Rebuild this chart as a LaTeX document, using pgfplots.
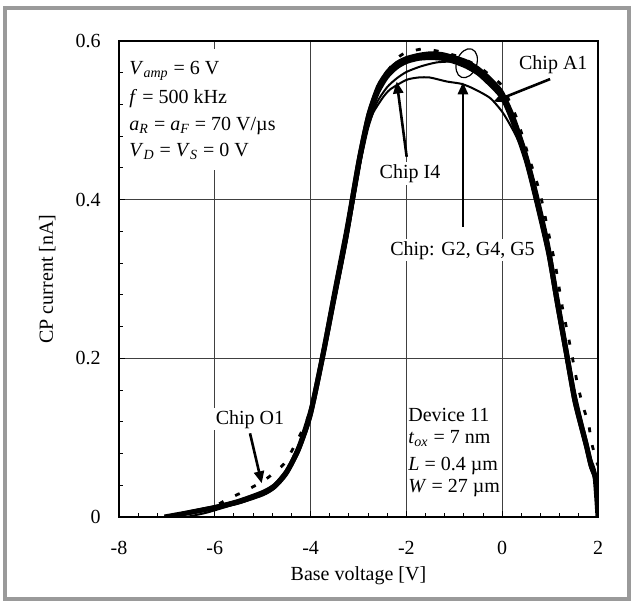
\documentclass[border=0pt]{standalone}
\usepackage{fontspec}
\setmainfont{Liberation Serif}
\usepackage{pgfplots}
\pgfplotsset{compat=1.18}
\usetikzlibrary{arrows.meta}
\definecolor{framegray}{HTML}{9A9A9A}

% CP current [nA] vs base voltage [V]
\pgfplotstableread{
x y
-7.05 0.000
-6.5 0.006
-6.0 0.012
-5.5 0.019
-5.0 0.030
-4.75 0.039
-4.5 0.057
-4.25 0.086
-4.0 0.131
-3.75 0.202
-3.5 0.280
-3.25 0.357
-3.0 0.445
-2.8 0.503
-2.6 0.538
-2.4 0.558
-2.2 0.570
-2.0 0.577
-1.75 0.581
-1.5 0.582
-1.25 0.581
-1.0 0.577
-0.75 0.571
-0.5 0.562
-0.25 0.549
0.0 0.532
0.25 0.497
0.5 0.452
0.72 0.400
0.96 0.337
1.14 0.274
1.33 0.210
1.5 0.152
1.62 0.122
1.75 0.092
1.85 0.066
1.94 0.050
2.0 0.000
}\chipGtwo

\pgfplotstableread{
x y
-6.95 0.000
-6.5 0.007
-6.0 0.013
-5.5 0.021
-5.0 0.032
-4.75 0.041
-4.5 0.059
-4.25 0.090
-4.0 0.137
-3.75 0.208
-3.5 0.288
-3.25 0.366
-3.0 0.452
-2.8 0.508
-2.6 0.543
-2.4 0.562
-2.2 0.573
-2.0 0.579
-1.75 0.583
-1.5 0.585
-1.25 0.584
-1.0 0.580
-0.75 0.575
-0.5 0.566
-0.25 0.553
0.0 0.536
0.25 0.503
0.5 0.458
0.72 0.408
0.96 0.345
1.14 0.283
1.33 0.218
1.5 0.160
1.62 0.128
1.75 0.097
1.85 0.072
1.94 0.054
2.0 0.000
}\chipGfour

\pgfplotstableread{
x y
-7.0 0.000
-6.5 0.005
-6.0 0.011
-5.5 0.018
-5.0 0.028
-4.75 0.037
-4.5 0.054
-4.25 0.083
-4.0 0.126
-3.75 0.196
-3.5 0.273
-3.25 0.350
-3.0 0.438
-2.8 0.497
-2.6 0.533
-2.4 0.554
-2.2 0.566
-2.0 0.573
-1.75 0.577
-1.5 0.578
-1.25 0.577
-1.0 0.573
-0.75 0.567
-0.5 0.558
-0.25 0.544
0.0 0.527
0.25 0.491
0.5 0.446
0.72 0.393
0.96 0.330
1.14 0.267
1.33 0.203
1.5 0.146
1.62 0.117
1.75 0.087
1.85 0.062
1.94 0.046
2.0 0.000
}\chipGfive

\pgfplotstableread{
x y
-6.9 0.000
-6.5 0.006
-6.0 0.012
-5.5 0.019
-5.0 0.029
-4.75 0.038
-4.5 0.056
-4.25 0.085
-4.0 0.129
-3.75 0.198
-3.5 0.275
-3.25 0.350
-3.0 0.435
-2.8 0.490
-2.62 0.522
-2.4 0.542
-2.2 0.553
-2.0 0.561
-1.7 0.568
-1.37 0.573
-1.0 0.574
-0.75 0.570
-0.5 0.561
-0.25 0.550
0.0 0.534
0.25 0.500
0.5 0.456
0.72 0.405
0.96 0.342
1.14 0.280
1.33 0.215
1.5 0.157
1.62 0.125
1.75 0.095
1.85 0.070
1.94 0.052
2.0 0.000
}\chipAone

\pgfplotstableread{
x y
-6.6 0.000
-6.2 0.005
-5.75 0.013
-5.5 0.018
-5.0 0.028
-4.75 0.037
-4.5 0.054
-4.25 0.083
-4.0 0.126
-3.75 0.195
-3.5 0.272
-3.25 0.348
-3.0 0.432
-2.9 0.468
-2.8 0.492
-2.69 0.510
-2.5 0.528
-2.34 0.539
-2.0 0.551
-1.75 0.554
-1.51 0.554
-1.16 0.549
-0.85 0.546
-0.6 0.540
-0.25 0.528
0.02 0.509
0.30 0.479
0.58 0.437
0.8 0.385
0.96 0.332
1.14 0.268
1.33 0.204
1.5 0.148
1.62 0.118
1.75 0.088
1.85 0.063
1.94 0.047
2.0 0.000
}\chipIfour

\pgfplotstableread{
x y
-7.0 0.000
-6.5 0.006
-6.0 0.014
-5.75 0.022
-5.33 0.034
-4.95 0.047
-4.57 0.066
-4.36 0.087
-4.2 0.106
-4.0 0.135
-3.75 0.198
-3.5 0.275
-3.25 0.352
-3.0 0.440
-2.8 0.500
-2.5 0.550
-2.25 0.574
-2.06 0.584
-1.66 0.590
-1.25 0.586
-0.9 0.580
-0.5 0.568
-0.2 0.554
0.0 0.543
0.3 0.503
0.545 0.456
0.79 0.408
0.96 0.360
1.12 0.314
1.26 0.263
1.415 0.217
1.57 0.168
1.69 0.139
1.80 0.118
1.87 0.093
1.96 0.072
2.0 0.065
}\chipOone

\begin{document}
\begin{tikzpicture}[font=\fontsize{10}{12}\selectfont]
\useasboundingbox (0,0) rectangle (316pt,300.5pt);
\draw[framegray, line width=2pt] (2.5pt,1.25pt) rectangle (314.5pt,296.25pt);

\begin{axis}[
    at={(59.5pt,42pt)}, anchor=south west,
    scale only axis, width=239.5pt, height=238pt,
    xmin=-8, xmax=2, ymin=0, ymax=0.6,
    xtick={-8,-6,-4,-2,0,2},
    xticklabels={-8,-6,-4,-2,0,2},
    ytick={0,0.2,0.4,0.6},
    yticklabels={0,0.2,0.4,0.6},
    minor x tick num=4, minor y tick num=4,
    tick pos=left, tick align=inside,
    major tick length=3pt, minor tick length=2pt,
    every tick/.style={black, line width=0.5pt},
    grid=major,
    major grid style={black!75, line width=0.5pt},
    axis line style={black, line width=0.6pt},
    xticklabel style={yshift=-8.7pt},
    yticklabel style={xshift=-5.7pt},
    xlabel={Base voltage [V]},
    ylabel={CP current [nA]},
    every axis x label/.style={at={(axis description cs:0.5,-0.134)}, anchor=base},
    every axis y label/.style={at={(axis description cs:-0.150,0.5)}, rotate=90, anchor=center},
]
\addplot[black, line width=1pt, smooth, tension=0.4] table {\chipIfour};
\addplot[black, line width=1pt, smooth, tension=0.4] table {\chipAone};
\addplot[black, line width=1.6pt, smooth, tension=0.4] table {\chipGfive};
\addplot[black, line width=1.6pt, smooth, tension=0.4] table {\chipGfour};
\addplot[black, line width=2.5pt, smooth, tension=0.4] table {\chipGtwo};
\addplot[black, line width=1.4pt, smooth, tension=0.4, dash pattern=on 2.5pt off 6.5pt] table {\chipOone};

% parameter block, top left
\fill[white] (axis cs:-7.854,0.4374) rectangle (axis cs:-4.18,0.590);
\node[anchor=base west, inner sep=0pt] at (axis cs:-7.79,0.5572) {\textit{V}\textsubscript{\textit{amp}} = 6 V};
\node[anchor=base west, inner sep=0pt] at (axis cs:-7.79,0.5215) {\textit{f} = 500 kHz};
\node[anchor=base west, inner sep=0pt] at (axis cs:-7.79,0.4878) {\textit{a}\textsubscript{\textit{R}} = \textit{a}\textsubscript{\textit{F}} = 70 V/µs};
\node[anchor=base west, inner sep=0pt] at (axis cs:-7.79,0.4542) {\textit{V}\textsubscript{\textit{D}} = \textit{V}\textsubscript{\textit{S}} = 0 V};

% device block, bottom right
\node[anchor=base west, inner sep=0pt] at (axis cs:-1.967,0.1201) {Device 11};
\node[anchor=base west, inner sep=0pt] at (axis cs:-1.967,0.0929) {\textit{t}\textsubscript{\textit{ox}} = 7 nm};
\node[anchor=base west, inner sep=0pt] at (axis cs:-1.967,0.0592) {\textit{L} = 0.4 µm};
\node[anchor=base west, inner sep=0pt] at (axis cs:-1.967,0.0306) {\textit{W} = 27 µm};

% annotations
\node[anchor=base, fill=white, inner sep=1pt] at (axis cs:1.067,0.5644) {Chip A1};
\node[anchor=base, fill=white, inner sep=1pt] at (axis cs:-1.925,0.427) {Chip I4};
\node[anchor=base, fill=white, inner sep=1pt] at (axis cs:-0.829,0.330) {Chip: G2, G4, G5};
\node[anchor=base, fill=white, inner sep=1pt] at (axis cs:-5.265,0.117) {Chip O1};

\draw[line width=1.3pt, -{Triangle[length=6pt,width=5pt]}] (axis cs:1.0,0.552) -- (axis cs:-0.186,0.5235);
\draw[line width=1.3pt, -{Triangle[length=6pt,width=5pt]}] (axis cs:-1.994,0.454) -- (axis cs:-2.2025,0.549);
\draw[line width=1.3pt, -{Triangle[length=6pt,width=5pt]}] (axis cs:-0.82,0.366) -- (axis cs:-0.82,0.548);
\draw[line width=1.3pt, -{Triangle[length=6pt,width=5pt]}] (axis cs:-5.265,0.1055) -- (axis cs:-5.02,0.0425);
\draw[line width=0.6pt] (axis cs:-0.741,0.572) ellipse [x radius=5pt, y radius=7.5pt, rotate=-20];
\end{axis}
\end{tikzpicture}
\end{document}
